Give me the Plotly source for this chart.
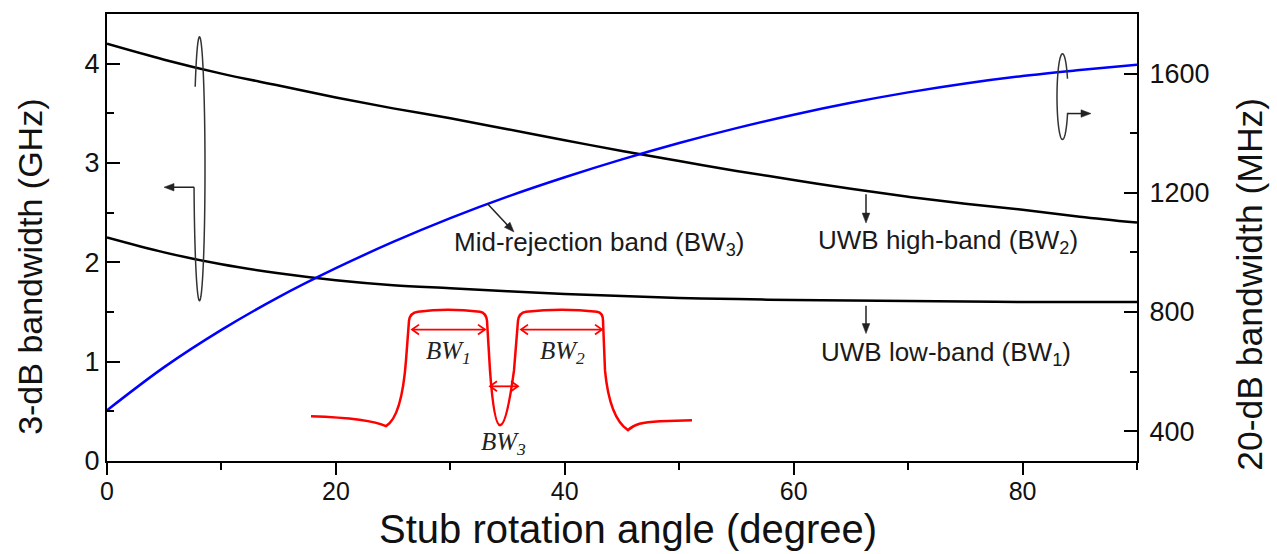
import numpy as np
import plotly.graph_objects as go

# ---------------- data ----------------
angle_deg = [0, 5, 10, 15, 20, 25, 30, 35, 40, 45, 50, 55, 60, 65, 70, 75, 80, 85, 90]
bw2_high_ghz = [4.20, 4.04, 3.90, 3.78, 3.66, 3.55, 3.45, 3.34, 3.23, 3.12, 3.02,
                2.92, 2.83, 2.74, 2.66, 2.59, 2.53, 2.46, 2.40]
bw1_low_ghz = [2.25, 2.10, 1.98, 1.89, 1.82, 1.77, 1.74, 1.71, 1.68, 1.66, 1.64,
               1.63, 1.62, 1.615, 1.61, 1.605, 1.60, 1.60, 1.60]
bw3_mid_mhz = [470, 615, 740, 850, 947, 1035, 1115, 1187, 1252, 1312, 1367,
               1417, 1462, 1502, 1537, 1567, 1592, 1612, 1630]

x_ticks = [0, 20, 40, 60, 80]
y_ticks = [0, 1, 2, 3, 4]
y2_ticks = [400, 800, 1200, 1600]

# ---------------- layout geometry ----------------
W, H = 1277, 554
L, R, T, B = 107, 1137, 12, 461
XR = [0, 90]
YR = [0, 4.5]
Y2R = [300, 1800]

FONT = "Liberation Sans, Arial, sans-serif"
SERIF = "Liberation Serif, Times New Roman, serif"


def dx(px):
    return XR[0] + (px - L) / (R - L) * (XR[1] - XR[0])


def dy(py):
    return YR[0] + (B - py) / (B - T) * (YR[1] - YR[0])


def px_x(px):
    return (px - L) / (R - L)


def px_y(py):
    return (B - py) / (B - T)


def pts_path(pts, close=False):
    s = "M " + " L ".join(f"{dx(x):.4f},{dy(y):.4f}" for x, y in pts)
    return s + (" Z" if close else "")


def path_from(cmds):
    out = []
    for c in cmds:
        op = c[0]
        p = c[1:]
        out.append(op + " " + " ".join(f"{dx(p[i]):.4f},{dy(p[i+1]):.4f}" for i in range(0, len(p), 2)))
    return " ".join(out)


def ellipse_pts(cx, cy, a, b, t0, t1):
    t = np.radians(np.linspace(t0, t1, 140))
    return [(cx + a * np.cos(v), cy - b * np.sin(v)) for v in t]


shapes = []


def arrow(x0, y0, x1, y1, color="#222222", width=1.5, hl=10, hw=3.8, both=False, open_head=False):
    """Arrow drawn with shapes, in pixel coordinates of the figure."""
    v = np.array([x1 - x0, y1 - y0], float)
    u = v / np.linalg.norm(v)
    n = np.array([-u[1], u[0]])

    def head(tip, d):
        tip = np.array(tip, float)
        b1 = tip - hl * d + hw * n
        b2 = tip - hl * d - hw * n
        if open_head:
            shapes.append(dict(type="path", xref="x", yref="y",
                               path=pts_path([tuple(b1), tuple(tip), tuple(b2)]),
                               line=dict(color=color, width=width)))
        else:
            shapes.append(dict(type="path", xref="x", yref="y",
                               path=pts_path([tuple(tip), tuple(b1), tuple(b2)], close=True),
                               fillcolor=color, line=dict(color=color, width=0.5)))

    start = np.array([x0, y0], float)
    end = np.array([x1, y1], float)
    ls = start + (hl * 0.6 * u if (both and not open_head) else 0)
    le = end - (hl * 0.6 * u if not open_head else 0)
    shapes.append(dict(type="path", xref="x", yref="y", path=pts_path([tuple(ls), tuple(le)]),
                       line=dict(color=color, width=width)))
    head((x1, y1), u)
    if both:
        head((x0, y0), -u)


fig = go.Figure()

fig.add_trace(go.Scatter(x=angle_deg, y=bw2_high_ghz, mode="lines", line=dict(color="black", width=2.5, shape="spline"),
                         showlegend=False, hoverinfo="skip"))
fig.add_trace(go.Scatter(x=angle_deg, y=bw1_low_ghz, mode="lines", line=dict(color="black", width=2.5, shape="spline"),
                         showlegend=False, hoverinfo="skip"))
fig.add_trace(go.Scatter(x=angle_deg, y=bw3_mid_mhz, mode="lines", yaxis="y2",
                         line=dict(color="#0000FF", width=2.5, shape="spline"),
                         showlegend=False, hoverinfo="skip"))

annotations = []

# left ellipse (groups the two black curves -> left axis)
shapes.append(dict(type="path", xref="x", yref="y",
                   path=pts_path(ellipse_pts(199.5, 167.5, 5.5, 132.5, 141.5, -172)),
                   line=dict(color="#333333", width=1.5)))
arrow(194.2, 186, 164, 186)

# right ellipse (blue curve -> right axis)
shapes.append(dict(type="path", xref="x", yref="y",
                   path=pts_path(ellipse_pts(1062.5, 95, 5.5, 43, 24.8, 336.7) + [(1068.5, 112)]),
                   line=dict(color="#333333", width=1.5)))
arrow(1068, 112, 1091, 112)

# label arrows
arrow(488, 203, 514, 231)
arrow(866, 193, 866, 222)
arrow(866, 305, 866, 333)

# labels
for txt, px, py in [("Mid-rejection band (BW<sub>3</sub>)", 599, 243),
                    ("UWB high-band (BW<sub>2</sub>)", 948, 241),
                    ("UWB low-band (BW<sub>1</sub>)", 946, 353)]:
    annotations.append(dict(x=dx(px), y=dy(py), xref="x", yref="y", text=txt, showarrow=False,
                            font=dict(family=FONT, size=26, color="#1a1a1a"), xanchor="center", yanchor="middle"))

# red inset sketch of the filter response
red_cmds = [
    ("M", 311, 416),
    ("C", 340, 417, 372, 419, 386, 426),
    ("C", 396, 420, 403, 400, 406, 360),
    ("L", 409, 320),
    ("Q", 410, 312, 418, 311),
    ("Q", 447, 307, 480, 311),
    ("Q", 486, 312, 487, 320),
    ("L", 490, 370),
    ("C", 492, 398, 495, 425, 500, 425),
    ("C", 505, 425, 510, 400, 514, 370),
    ("L", 518, 320),
    ("Q", 519, 312, 526, 311),
    ("Q", 562, 307, 597, 311),
    ("Q", 603, 312, 603, 320),
    ("L", 605, 370),
    ("C", 608, 402, 616, 422, 628, 430),
    ("C", 634, 424, 642, 422, 660, 421),
    ("L", 692, 420),
]
shapes.append(dict(type="path", xref="x", yref="y", path=path_from(red_cmds),
                   line=dict(color="#FF0000", width=2.5)))

for (x0, x1, py) in [(412, 485, 329), (521, 602, 329), (490, 518, 386)]:
    arrow(x0, py, x1, py, color="#FF0000", width=1.8, hl=7, hw=5, both=True, open_head=True)

for sub, px, py in [("1", 448, 352), ("2", 562, 352), ("3", 503, 443)]:
    annotations.append(dict(x=dx(px), y=dy(py), xref="x", yref="y",
                            text=f"<i>BW</i><sub><i>{sub}</i></sub>", showarrow=False,
                            font=dict(family=SERIF, size=25, color="#222222"),
                            xanchor="center", yanchor="middle"))

# axis titles (placed as in the reference)
annotations.append(dict(x=px_x(628), y=px_y(529), xref="paper", yref="paper",
                        text="Stub rotation angle (degree)", showarrow=False,
                        font=dict(family=FONT, size=40, color="#111111"),
                        xanchor="center", yanchor="middle"))
annotations.append(dict(x=px_x(30), y=px_y(266), xref="paper", yref="paper",
                        text="3-dB bandwidth (GHz)", showarrow=False, textangle=-90,
                        font=dict(family=FONT, size=34, color="#111111"),
                        xanchor="center", yanchor="middle"))
annotations.append(dict(x=px_x(1250), y=px_y(284), xref="paper", yref="paper",
                        text="20-dB bandwidth (MHz)", showarrow=False, textangle=-90,
                        font=dict(family=FONT, size=35.5, color="#111111"),
                        xanchor="center", yanchor="middle"))

axis_common = dict(showgrid=False, zeroline=False, showline=True, linecolor="black", linewidth=2,
                   tickcolor="black", tickwidth=2)
tick_font = dict(family=FONT, size=27, color="#111111")

fig.update_layout(
    width=W, height=H,
    margin=dict(l=L, r=W - R, t=T, b=H - B, pad=0),
    paper_bgcolor="white", plot_bgcolor="white",
    xaxis=dict(range=XR, tickvals=x_ticks, ticks="outside", ticklen=12, mirror=True,
               ticklabelstandoff=-5, tickfont=dict(family=FONT, size=25, color="#111111"),
               minor=dict(dtick=10, ticks="outside", ticklen=7, tickwidth=2, tickcolor="black"),
               **axis_common),
    yaxis=dict(range=YR, tickvals=y_ticks, ticks="inside", ticklen=13, tickfont=tick_font,
               minor=dict(dtick=0.5, ticks="inside", ticklen=7, tickwidth=2, tickcolor="black"),
               **axis_common),
    yaxis2=dict(range=Y2R, overlaying="y", side="right", anchor="x", tickvals=y2_ticks,
                ticks="inside", ticklen=13, ticklabelstandoff=5, tickfont=tick_font,
                minor=dict(tick0=400, dtick=200, ticks="inside", ticklen=7, tickwidth=2, tickcolor="black"),
                **axis_common),
    shapes=shapes,
    annotations=annotations,
)

fig.write_html("out.html")
